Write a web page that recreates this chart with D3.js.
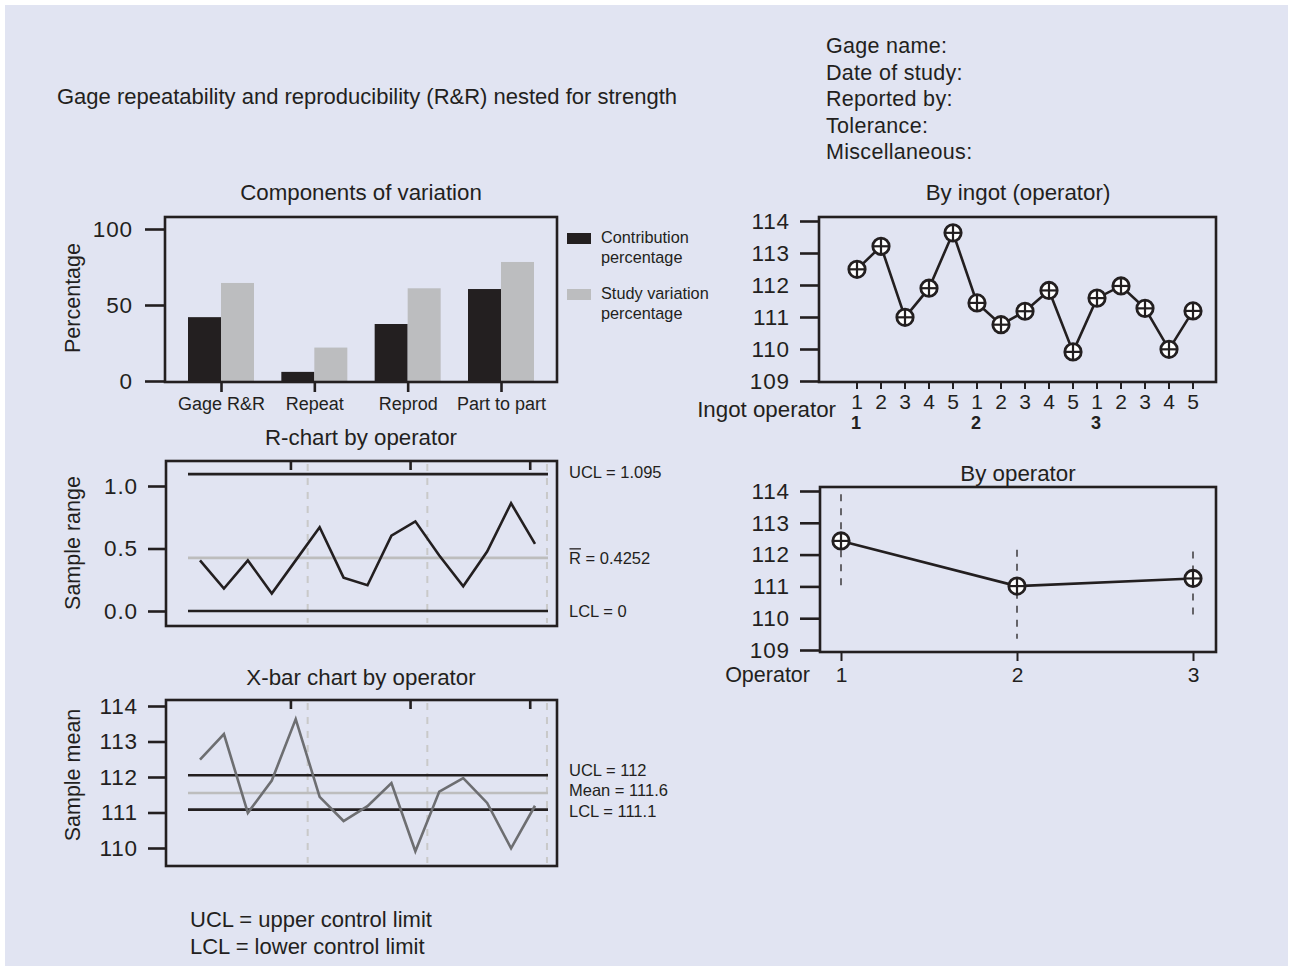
<!DOCTYPE html>
<html><head><meta charset="utf-8">
<script src="https://cdn.jsdelivr.net/npm/d3@7/dist/d3.min.js"></script>
<style>
html,body{margin:0;padding:0;background:#ffffff;}
svg{display:block;}
text{font-family:"Liberation Sans",Arial,sans-serif;fill:#231f20;}
</style></head>
<body>
<svg id="chart" width="1291" height="969"></svg>
<script>
// ---------------- DATA ----------------
const mainTitle = "Gage repeatability and reproducibility (R&R) nested for strength";
const infoLines = ["Gage name:", "Date of study:", "Reported by:", "Tolerance:", "Miscellaneous:"];
const notes = ["UCL = upper control limit", "LCL = lower control limit"];

const compCategories = ["Gage R&R", "Repeat", "Reprod", "Part to part"];
const contribution = [42, 6, 37.5, 60.5];
const studyVariation = [64.5, 22, 61, 78.3];
const compTicks = [0, 50, 100];
const legendLabels = [["Contribution", "percentage"], ["Study variation", "percentage"]];

const sampleIndex = [1,2,3,4,5,6,7,8,9,10,11,12,13,14,15];
const sampleRange = [0.405, 0.18, 0.405, 0.14, 0.405, 0.67, 0.267, 0.206, 0.603, 0.717, 0.444, 0.198, 0.476, 0.862, 0.537];
const rUCL = 1.095, rBar = 0.4252, rLCL = 0;
const rTicks = [0, 0.5, 1.0];

const ingotMeans = [112.49, 113.21, 110.99, 111.90, 113.63, 111.44, 110.76, 111.18, 111.83, 109.91, 111.59, 111.97, 111.27, 109.99, 111.19];
const xUCL = 112.05, xMean = 111.55, xLCL = 111.08;
const xbarTicks = [110, 111, 112, 113, 114];

const ingotLabels = ["1","2","3","4","5","1","2","3","4","5","1","2","3","4","5"];
const operators = [1, 2, 3];
const operatorMeans = [112.43, 111.01, 111.25];
const operatorMin = [110.9, 109.35, 110.1];
const operatorMax = [113.9, 112.15, 112.1];
const ingotTicks = [109, 110, 111, 112, 113, 114];

const operatorBoundaries = [5.5, 10.5, 15.5];
const topTicks = [4.8, 9.8, 14.8];

// ---------------- SETUP ----------------
const svg = d3.select("#chart");
const INK = "#231f20";
const FONT = "Liberation Sans, Arial, sans-serif";
svg.append("rect").attr("x",5).attr("y",5).attr("width",1283).attr("height",961).attr("fill","#e1e4f2");

function txt(x, y, s, size, anchor, weight, ls){
  return svg.append("text").attr("x",x).attr("y",y).attr("font-size",size)
    .attr("text-anchor",anchor||"start").attr("dominant-baseline","central")
    .attr("font-weight",weight||"normal").attr("letter-spacing", ls||0).text(s);
}
function frame(f){
  svg.append("rect").attr("x",f.x0).attr("y",f.y0).attr("width",f.x1-f.x0).attr("height",f.y1-f.y0)
    .attr("fill","none").attr("stroke",INK).attr("stroke-width",2.6);
}
function yAxis(f, scale, ticks, len, fmt, pad){
  const g = svg.append("g").attr("transform",`translate(${f.x0},0)`);
  const ax = d3.axisLeft(scale).tickValues(ticks).tickSize(len).tickPadding(pad).tickFormat(fmt);
  g.call(ax);
  g.select(".domain").remove();
  g.selectAll(".tick line").attr("stroke",INK).attr("stroke-width",2.6);
  g.selectAll(".tick text").attr("font-size",22.5).attr("fill",INK).attr("letter-spacing",0.9)
    .attr("font-family",FONT);
}
function yLabel(x, y, s){
  svg.append("text").attr("transform",`translate(${x},${y}) rotate(-90)`).attr("font-size",21.5)
    .attr("text-anchor","middle").attr("dominant-baseline","central").text(s);
}

// header
txt(57, 96, mainTitle, 22);
infoLines.forEach((s,i)=>txt(826, 46 + i*26.5, s, 21.5, "start", "normal", 0.3));
notes.forEach((s,i)=>txt(190, 919 + i*27, s, 22));

// ---------------- COMPONENTS OF VARIATION ----------------
{
  const f = {x0:165, x1:557, y0:217, y1:382};
  const y = d3.scaleLinear().domain([0,100]).range([381,229]);
  const x = d3.scalePoint().domain(compCategories).range([221,501]);
  const bw = 33;
  txt(361, 192, "Components of variation", 22.3, "middle");
  svg.append("g").selectAll("rect.c").data(compCategories).join("rect")
    .attr("x",d=>x(d)-bw).attr("width",bw)
    .attr("y",(d,i)=>y(contribution[i])).attr("height",(d,i)=>y(0)-y(contribution[i]))
    .attr("fill",INK);
  svg.append("g").selectAll("rect.s").data(compCategories).join("rect")
    .attr("x",d=>x(d)).attr("width",bw)
    .attr("y",(d,i)=>y(studyVariation[i])).attr("height",(d,i)=>y(0)-y(studyVariation[i]))
    .attr("fill","#bcbdbf");
  frame(f);
  yAxis(f, y, compTicks, 20, d3.format("d"), 12);
  const gx = svg.append("g").attr("transform",`translate(0,${f.y1})`);
  gx.call(d3.axisBottom(x).tickSize(10).tickPadding(5));
  gx.select(".domain").remove();
  gx.selectAll(".tick line").attr("stroke",INK).attr("stroke-width",2.6);
  gx.selectAll(".tick text").attr("font-size",18).attr("fill",INK).attr("font-family",FONT);
  yLabel(73, 298, "Percentage");
  // legend
  const lg = [{fill:INK, y:238},{fill:"#bcbdbf", y:294}];
  lg.forEach((l,i)=>{
    svg.append("rect").attr("x",567).attr("y",l.y-5).attr("width",24).attr("height",11).attr("fill",l.fill);
    txt(601, l.y-1, legendLabels[i][0], 16.3);
    txt(601, l.y+19, legendLabels[i][1], 16.3);
  });
}

// shared x for control charts
const xc = d3.scaleLinear().domain([1,15]).range([200,535]);
function controlDecor(f){
  svg.append("g").selectAll("line").data(operatorBoundaries).join("line")
    .attr("x1",d=>xc(d)).attr("x2",d=>xc(d)).attr("y1",f.y0+3).attr("y2",f.y1-3)
    .attr("stroke","#c9c9c9").attr("stroke-width",2).attr("stroke-dasharray","7,7");
  svg.append("g").selectAll("line").data(topTicks).join("line")
    .attr("x1",d=>xc(d)).attr("x2",d=>xc(d)).attr("y1",f.y0).attr("y2",f.y0+9)
    .attr("stroke",INK).attr("stroke-width",2.6);
}
function hline(y, color){
  svg.append("line").attr("x1",188).attr("x2",548).attr("y1",y).attr("y2",y)
    .attr("stroke",color).attr("stroke-width",2.6);
}

// ---------------- R CHART ----------------
{
  const f = {x0:166, x1:557, y0:461, y1:626};
  const y = d3.scaleLinear().domain([0,1]).range([611,486]);
  txt(361, 437, "R-chart by operator", 22.3, "middle");
  controlDecor(f);
  hline(y(rBar), "#bdbdbd");
  hline(y(rUCL), INK);
  hline(y(rLCL), INK);
  svg.append("path").datum(sampleRange)
    .attr("d", d3.line().x((d,i)=>xc(sampleIndex[i])).y(d=>y(d)))
    .attr("fill","none").attr("stroke",INK).attr("stroke-width",2.6).attr("stroke-linejoin","miter");
  frame(f);
  yAxis(f, y, rTicks, 18, d3.format(".1f"), 10);
  yLabel(73, 543, "Sample range");
  txt(569, y(rUCL)-2, "UCL = " + rUCL, 16.5);
  const rt = txt(569, y(rBar), "", 16.5);
  rt.append("tspan").text("R");
  rt.append("tspan").text(" = " + rBar);
  const rw = rt.node().getSubStringLength(0,1);
  svg.append("line").attr("x1",569.5).attr("x2",569+rw).attr("y1",y(rBar)-9).attr("y2",y(rBar)-9)
    .attr("stroke",INK).attr("stroke-width",1.3);
  txt(569, y(rLCL), "LCL = " + rLCL, 16.5);
}

// ---------------- X-BAR CHART ----------------
{
  const f = {x0:166, x1:557, y0:700, y1:866};
  const y = d3.scaleLinear().domain([110,114]).range([848,706]);
  txt(361, 677, "X-bar chart by operator", 22.3, "middle");
  controlDecor(f);
  hline(y(xMean), "#bdbdbd");
  hline(y(xUCL), INK);
  hline(y(xLCL), INK);
  svg.append("path").datum(ingotMeans)
    .attr("d", d3.line().x((d,i)=>xc(sampleIndex[i])).y(d=>y(d)))
    .attr("fill","none").attr("stroke","#6d6e71").attr("stroke-width",2.6);
  frame(f);
  yAxis(f, y, xbarTicks, 18, d3.format("d"), 10);
  yLabel(73, 775, "Sample mean");
  txt(569, 770, "UCL = 112", 16.5);
  txt(569, 790, "Mean = 111.6", 16.5);
  txt(569, 811, "LCL = 111.1", 16.5);
}

function marker(g, cx, cy){
  g.append("circle").attr("cx",cx).attr("cy",cy).attr("r",8.2).attr("fill","#ffffff")
    .attr("stroke",INK).attr("stroke-width",2.8);
  g.append("line").attr("x1",cx-8).attr("x2",cx+8).attr("y1",cy).attr("y2",cy).attr("stroke",INK).attr("stroke-width",2.2);
  g.append("line").attr("x1",cx).attr("x2",cx).attr("y1",cy-8).attr("y2",cy+8).attr("stroke",INK).attr("stroke-width",2.2);
}

// ---------------- BY INGOT ----------------
{
  const f = {x0:819, x1:1216, y0:217, y1:382};
  const y = d3.scaleLinear().domain([109,114]).range([381,221]);
  const x = d3.scaleLinear().domain([1,15]).range([857,1193]);
  txt(1018, 192, "By ingot (operator)", 22.3, "middle");
  svg.append("path").datum(ingotMeans)
    .attr("d", d3.line().x((d,i)=>x(sampleIndex[i])).y(d=>y(d)))
    .attr("fill","none").attr("stroke",INK).attr("stroke-width",2.6);
  const g = svg.append("g");
  ingotMeans.forEach((d,i)=>marker(g, x(sampleIndex[i]), y(d)));
  frame(f);
  yAxis(f, y, ingotTicks, 19, d3.format("d"), 10);
  svg.append("g").selectAll("line").data(sampleIndex).join("line")
    .attr("x1",d=>x(d)).attr("x2",d=>x(d)).attr("y1",f.y1).attr("y2",f.y1+7)
    .attr("stroke",INK).attr("stroke-width",2);
  sampleIndex.forEach((d,i)=>txt(x(d), 401, ingotLabels[i], 21, "middle"));
  operators.forEach((o,i)=>txt(x(1+i*5)-1, 423, String(o), 18, "middle", "bold"));
  txt(836, 409, "Ingot operator", 22.3, "end");
}

// ---------------- BY OPERATOR ----------------
{
  const f = {x0:820, x1:1216, y0:487, y1:652};
  const y = d3.scaleLinear().domain([109,114]).range([650,491]);
  const x = d3.scalePoint().domain(operators).range([841,1193]);
  txt(1018, 473, "By operator", 22.3, "middle");
  svg.append("g").selectAll("line").data(operators).join("line")
    .attr("x1",d=>x(d)).attr("x2",d=>x(d))
    .attr("y1",(d,i)=>y(operatorMax[i])).attr("y2",(d,i)=>y(operatorMin[i]))
    .attr("stroke",INK).attr("stroke-width",1.3).attr("stroke-dasharray","7,7");
  svg.append("path").datum(operatorMeans)
    .attr("d", d3.line().x((d,i)=>x(operators[i])).y(d=>y(d)))
    .attr("fill","none").attr("stroke",INK).attr("stroke-width",2.6);
  const g = svg.append("g");
  operatorMeans.forEach((d,i)=>marker(g, x(operators[i]), y(d)));
  frame(f);
  yAxis(f, y, ingotTicks, 20, d3.format("d"), 10);
  const gx = svg.append("g").attr("transform",`translate(0,${f.y1})`);
  gx.call(d3.axisBottom(x).tickSize(9).tickPadding(6));
  gx.select(".domain").remove();
  gx.selectAll(".tick line").attr("stroke",INK).attr("stroke-width",2);
  gx.selectAll(".tick text").attr("font-size",21).attr("fill",INK).attr("font-family",FONT);
  txt(810, 675, "Operator", 21.5, "end");
}
</script>
</body></html>
